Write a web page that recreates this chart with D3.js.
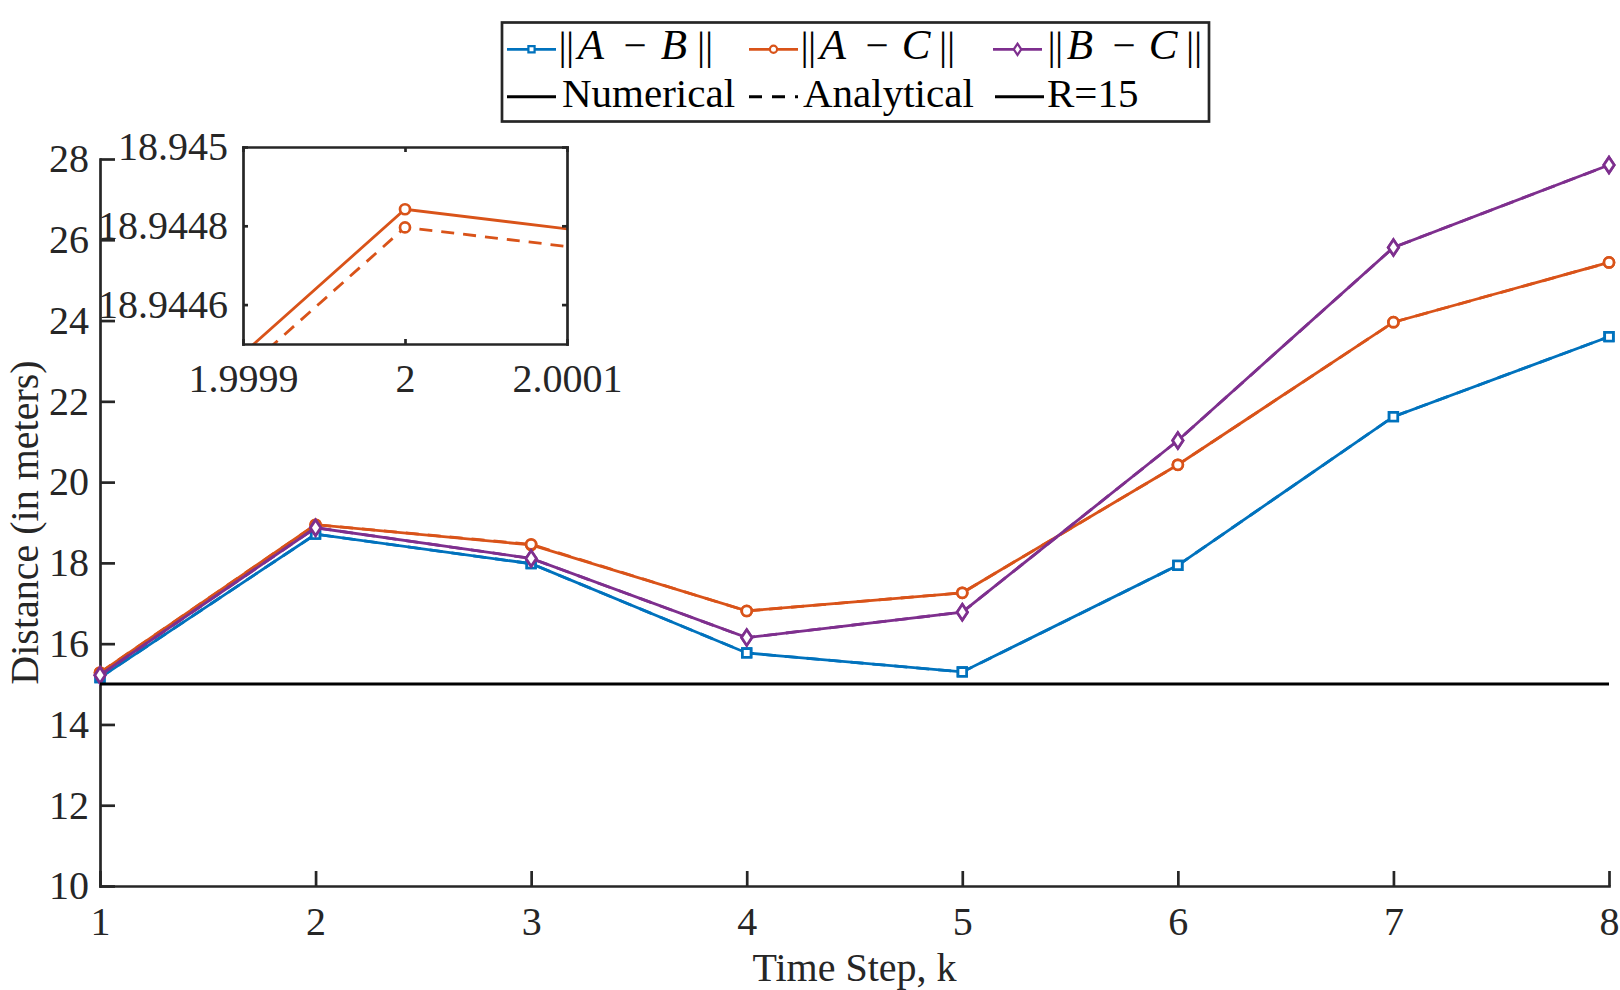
<!DOCTYPE html>
<html>
<head>
<meta charset="utf-8">
<script src="https://cdn.jsdelivr.net/npm/d3@7"></script>
<style>
  body { margin: 0; background: #fff; }
  text { font-family: "Liberation Serif", "Times New Roman", serif; fill: #262626; }
</style>
</head>
<body>
<svg id="chart" width="1620" height="990"></svg>
<script>
// time steps k
const steps = [1, 2, 3, 4, 5, 6, 7, 8];

// numerical distances (m)
const abNum = [15.16, 18.71, 17.98, 15.77, 15.30, 17.94, 21.62, 23.60];
const acNum = [15.28, 18.944842, 18.4448, 16.81, 17.26, 20.43, 23.96, 25.44];
const bcNum = [15.22, 18.87, 18.11, 16.15, 16.78, 21.03, 25.81, 27.85];

// analytical distances (m)
const abAna = [15.1601, 18.70996, 17.97992, 15.76995, 15.29997, 17.93991, 21.61988, 23.59985];
const acAna = [15.285, 18.944796, 18.4598, 16.8094, 17.2592, 20.4290, 23.9587, 25.4385];
const bcAna = [15.2202, 18.86995, 18.10993, 16.14996, 16.77994, 21.02990, 25.80986, 27.84982];

// safety radius
const radius = 15;

// tick values / labels
const yTicks = [10, 12, 14, 16, 18, 20, 22, 24, 26, 28];
const insetXTicks = [1.9999, 2, 2.0001];
const insetXLabels = ['1.9999', '2', '2.0001'];
const insetYTicks = [18.9446, 18.9448, 18.945];
const insetYLabels = ['18.9446', '18.9448', '18.945'];

const series = [
  { a: 'A', b: 'B', color: '#0072BD', marker: 'square', num: abNum, ana: abAna },
  { a: 'A', b: 'C', color: '#D95319', marker: 'circle', num: acNum, ana: acAna },
  { a: 'B', b: 'C', color: '#7E2F8E', marker: 'diamond', num: bcNum, ana: bcAna }
];

const font = '"Liberation Serif", "Times New Roman", serif';
const axisColor = '#262626';
const svg = d3.select('#chart');

// marker shapes, k scales the size
function markerPath(type, k) {
  if (type === 'square') {
    const s = 4.3 * k;
    return `M${-s},${-s}h${2 * s}v${2 * s}h${-2 * s}Z`;
  }
  if (type === 'circle') {
    const r = 5 * k;
    return `M${r},0A${r},${r} 0 1,1 ${-r},0A${r},${r} 0 1,1 ${r},0Z`;
  }
  const w = 5.2 * k, h = 7.8 * k;
  return `M0,${-h}L${w},0L0,${h}L${-w},0Z`;
}

function styleAxis(g, size) {
  g.attr('font-family', null).attr('font-size', null);
  g.select('.domain').attr('stroke', axisColor).attr('stroke-width', 2.7).attr('stroke-linecap', 'square');
  g.selectAll('.tick line').attr('stroke', axisColor).attr('stroke-width', 2.7);
  g.selectAll('.tick text').attr('fill', axisColor)
    .style('font-family', font).style('font-size', size + 'px');
}

// draw solid + dashed lines with markers for every series
function drawSeries(g, sx, sy) {
  series.forEach(s => {
    [['num', null], ['ana', '13,9']].forEach(([key, dash]) => {
      const line = d3.line().x((d, i) => sx(steps[i])).y(d => sy(d));
      g.append('path')
        .datum(s[key])
        .attr('d', line)
        .attr('fill', 'none')
        .attr('stroke', s.color)
        .attr('stroke-width', 2.8)
        .attr('stroke-dasharray', dash);
      g.selectAll(null)
        .data(s[key])
        .enter()
        .append('path')
        .attr('d', markerPath(s.marker, 1))
        .attr('transform', (d, i) => `translate(${sx(steps[i])},${sy(d)})`)
        .attr('fill', 'white')
        .attr('stroke', s.color)
        .attr('stroke-width', 2.7);
    });
  });
}

// ---------- main axes ----------
const main = { left: 100, right: 1609, top: 159, bottom: 886 };
const x = d3.scaleLinear().domain([1, 8]).range([main.left, main.right]);
const y = d3.scaleLinear().domain([10, 28]).range([main.bottom, main.top]);

const gx = svg.append('g')
  .attr('transform', `translate(0,${main.bottom})`)
  .call(d3.axisBottom(x).tickValues(steps).tickFormat(d3.format('d'))
    .tickSizeInner(-15).tickSizeOuter(0).tickPadding(21));
styleAxis(gx, 40);

const gy = svg.append('g')
  .attr('transform', `translate(${main.left},0)`)
  .call(d3.axisLeft(y).tickValues(yTicks).tickFormat(d3.format('d'))
    .tickSizeInner(-15).tickSizeOuter(0).tickPadding(11));
styleAxis(gy, 40);

svg.append('text')
  .attr('x', (main.left + main.right) / 2)
  .attr('y', 981)
  .attr('text-anchor', 'middle')
  .style('font-size', '40px')
  .text('Time Step, k');

svg.append('text')
  .attr('transform', `translate(38,${(main.top + main.bottom) / 2}) rotate(-90)`)
  .attr('text-anchor', 'middle')
  .style('font-size', '40px')
  .text('Distance (in meters)');

drawSeries(svg.append('g'), x, y);

svg.append('line')
  .attr('x1', x(1)).attr('x2', x(8))
  .attr('y1', y(radius)).attr('y2', y(radius))
  .attr('stroke', '#000')
  .attr('stroke-width', 3);

// ---------- inset ----------
const inset = { left: 243, right: 567, top: 147, bottom: 344 };
const ix = d3.scaleLinear().domain([1.9999, 2.0001]).range([inset.left, inset.right]);
const iy = d3.scaleLinear().domain([18.9445, 18.945]).range([inset.bottom, inset.top]);

svg.append('rect')
  .attr('x', inset.left).attr('y', inset.top)
  .attr('width', inset.right - inset.left).attr('height', inset.bottom - inset.top)
  .attr('fill', 'white');

svg.append('clipPath').attr('id', 'insetClip')
  .append('rect')
  .attr('x', inset.left).attr('y', inset.top)
  .attr('width', inset.right - inset.left).attr('height', inset.bottom - inset.top);

drawSeries(svg.append('g').attr('clip-path', 'url(#insetClip)'), ix, iy);

const ibx = svg.append('g')
  .attr('transform', `translate(0,${inset.bottom})`)
  .call(d3.axisBottom(ix).tickValues(insetXTicks).tickFormat((d, i) => insetXLabels[i])
    .tickSizeInner(-5).tickSizeOuter(0).tickPadding(20));
styleAxis(ibx, 40);

const itx = svg.append('g')
  .attr('transform', `translate(0,${inset.top})`)
  .call(d3.axisTop(ix).tickValues(insetXTicks).tickFormat('')
    .tickSizeInner(-5).tickSizeOuter(0));
styleAxis(itx, 40);

const ily = svg.append('g')
  .attr('transform', `translate(${inset.left},0)`)
  .call(d3.axisLeft(iy).tickValues(insetYTicks).tickFormat((d, i) => insetYLabels[i])
    .tickSizeInner(-5).tickSizeOuter(0).tickPadding(15));
styleAxis(ily, 40);

const iry = svg.append('g')
  .attr('transform', `translate(${inset.right},0)`)
  .call(d3.axisRight(iy).tickValues(insetYTicks).tickFormat('')
    .tickSizeInner(-5).tickSizeOuter(0));
styleAxis(iry, 40);

// ---------- legend ----------
const legend = svg.append('g');
legend.append('rect')
  .attr('x', 502).attr('y', 22.5)
  .attr('width', 707).attr('height', 99)
  .attr('fill', 'white')
  .attr('stroke', axisColor)
  .attr('stroke-width', 2.7);

// ||a - b|| written glyph by glyph, offsets relative to x0
function mathLabel(g, x0, base, a, b) {
  const parts = [
    ['|', 4.7, 'normal'], ['|', 12, 'normal'], [a, 33, 'italic'],
    ['\u2212', 77, 'normal'], [b, 116, 'italic'], ['|', 143, 'normal'], ['|', 151, 'normal']
  ];
  parts.forEach(([t, dx, st]) => {
    g.append('text')
      .attr('x', x0 + dx).attr('y', base)
      .attr('text-anchor', 'middle')
      .style('font-size', st === 'italic' ? '43px' : '41px')
      .style('font-style', st)
      .style('fill', '#000')
      .text(t);
  });
}

const row1Icon = [507, 749, 993];
const row1Text = [558, 800, 1047];
series.forEach((s, i) => {
  const x0 = row1Icon[i];
  legend.append('line')
    .attr('x1', x0).attr('x2', x0 + 49)
    .attr('y1', 49.3).attr('y2', 49.3)
    .attr('stroke', s.color).attr('stroke-width', 2.8);
  legend.append('path')
    .attr('d', markerPath(s.marker, 0.72))
    .attr('transform', `translate(${x0 + 24.5},49.3)`)
    .attr('fill', 'white').attr('stroke', s.color).attr('stroke-width', 2.2);
  mathLabel(legend, row1Text[i], 59.3, s.a, s.b);
});

const row2 = [
  { label: 'Numerical', dash: null, icon: 507, text: 562 },
  { label: 'Analytical', dash: '13,10', icon: 749, text: 803 },
  { label: 'R=15', dash: null, icon: 995, text: 1047 }
];
row2.forEach(r => {
  legend.append('line')
    .attr('x1', r.icon).attr('x2', r.icon + 49)
    .attr('y1', 96.7).attr('y2', 96.7)
    .attr('stroke', '#000').attr('stroke-width', 3)
    .attr('stroke-dasharray', r.dash);
  legend.append('text')
    .attr('x', r.text).attr('y', 107.3)
    .style('font-size', '41px')
    .style('fill', '#000')
    .text(r.label);
});
</script>
</body>
</html>
